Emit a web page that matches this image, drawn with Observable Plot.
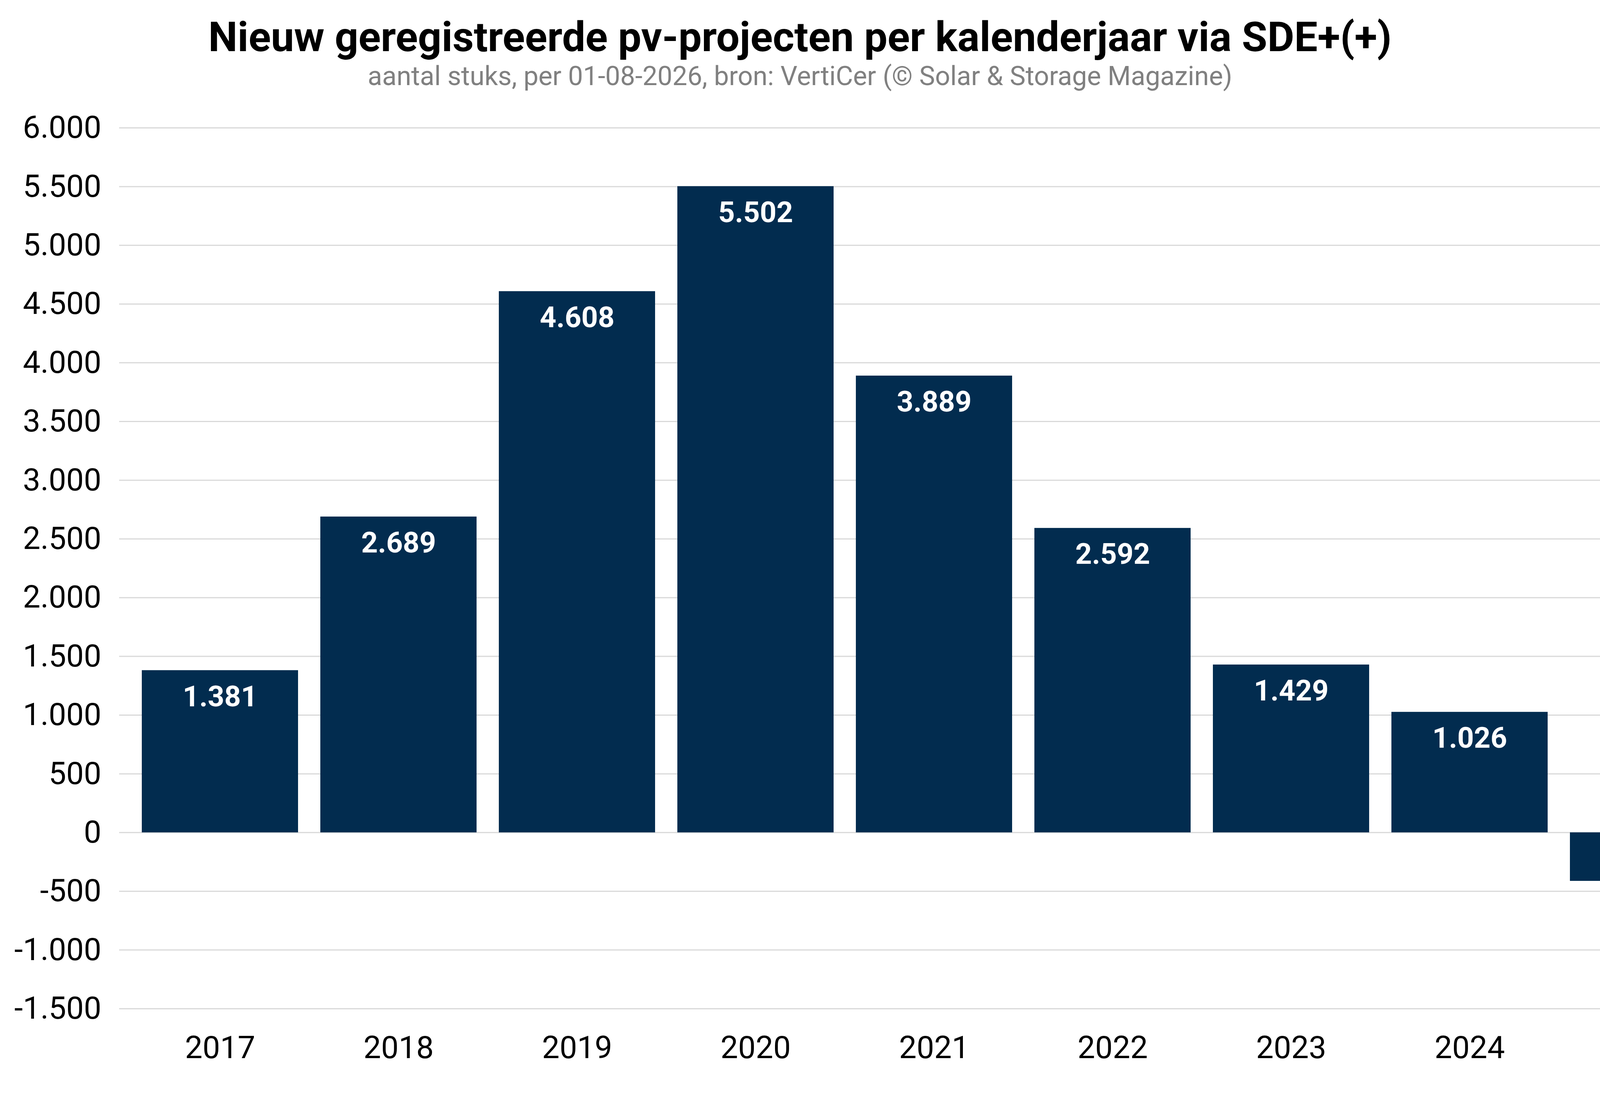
<!DOCTYPE html>
<html><head><meta charset="utf-8">
<script src="https://cdn.jsdelivr.net/npm/d3@7"></script>
<script src="https://cdn.jsdelivr.net/npm/@observablehq/plot@0.6"></script>
<style>
html,body{margin:0;background:#fff;font-family:Roboto,sans-serif;height:2807px;overflow:hidden;}
#title{text-align:center;font-weight:700;font-size:106px;color:#000;height:170px;line-height:170px;margin:0;padding-top:10px;}
#sub{text-align:center;font-size:68px;color:#808080;height:110px;line-height:90px;margin-top:-30px;}
#chart svg{display:block;}
</style></head>
<body>
<div id="title">Nieuw geregistreerde pv-projecten per kalenderjaar via SDE+(+)</div>
<div id="sub">aantal stuks, per 01-08-2026, bron: VertiCer (© Solar &amp; Storage Magazine)</div>
<div id="chart"></div>
<script>
const years = ["2017","2018","2019","2020","2021","2022","2023","2024","2025","2026"];
const values = [1381,2689,4608,5502,3889,2592,1429,1026,-413,-1201];
const yTicks = [-1500,-1000,-500,0,500,1000,1500,2000,2500,3000,3500,4000,4500,5000,5500,6000];
const nl = d3.formatLocale({decimal:",",thousands:".",grouping:[3],currency:["€",""],minus:"-"});
const fmt = nl.format(",d");
const data = years.map((y,i)=>({year:y,value:values[i]}));
const plot = Plot.plot({
  width:4954, height:2510,
  marginTop:67, marginBottom:187, marginLeft:305, marginRight:20,
  style:{fontFamily:"Roboto, sans-serif", fontSize:"80px", color:"#000", maxWidth:"none"},
  x:{domain:years, padding:0.125, label:null, tickSize:0, tickPadding:70},
  y:{domain:[-1500,6000], ticks:yTicks, tickFormat:fmt, label:null, tickSize:0, tickPadding:46},
  marks:[
    Plot.gridY(yTicks,{stroke:"#d9d9d9", strokeOpacity:1, strokeWidth:3}),
    Plot.barY(data,{x:"year", y:"value", fill:"#022c4f"}),
    Plot.text(data.filter(d=>d.value>=0),{x:"year", y:"value", text:d=>fmt(d.value), dy:68, fill:"#fff", fontWeight:"bold", fontSize:74}),
    Plot.text(data.filter(d=>d.value<0),{x:"year", y:"value", text:d=>fmt(d.value), dy:-60, fill:"#fff", fontWeight:"bold", fontSize:74})
  ]
});
document.getElementById("chart").appendChild(plot);
</script>
</body></html>
